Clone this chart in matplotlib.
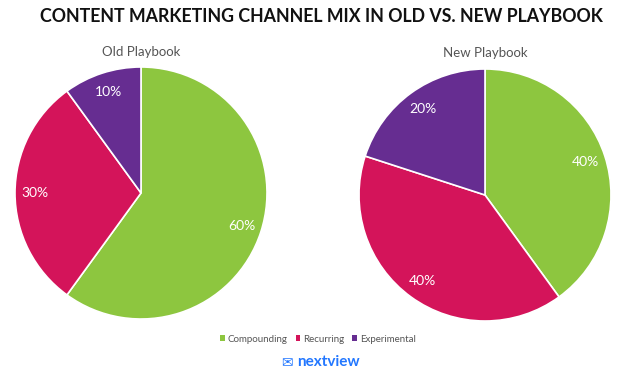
import matplotlib.pyplot as plt
from matplotlib.patches import Patch

plt.rcParams['font.family'] = ['Lato', 'DejaVu Sans']

# ___ data ___
channels = ["Compounding", "Recurring", "Experimental"]
old_share = [60, 30, 10]
new_share = [40, 40, 20]
colors = ["#8DC63F", "#D4145A", "#662D91"]

fig = plt.figure(figsize=(6.42, 3.88), dpi=100)
W, H = 642, 388

def pie_axes(cx, cy, r):
    return fig.add_axes([(cx - r) / W, (H - cy - r) / H, 2 * r / W, 2 * r / H])

def draw_pie(ax, vals, title):
    wedges, texts = ax.pie(vals, colors=colors, startangle=90, counterclock=False,
                           labels=[f"{v}%" for v in vals], labeldistance=0.84,
                           radius=1, wedgeprops=dict(edgecolor="white", linewidth=1.2),
                           textprops=dict(color="white", fontsize=10))
    for t in texts:
        t.set_ha("center")
        t.set_va("center")
    ax.set_xlim(-1.0, 1.0)
    ax.set_ylim(-1.0, 1.0)
    ax.set_aspect("equal")
    ax.axis("off")

ax1 = pie_axes(141, 193, 126)
draw_pie(ax1, old_share, "Old Playbook")
ax2 = pie_axes(485, 195, 126)
draw_pie(ax2, new_share, "New Playbook")

fig.text(321 / W, 1 - 17 / H, "CONTENT MARKETING CHANNEL MIX IN OLD VS. NEW PLAYBOOK",
         ha="center", va="center", fontsize=12.8, fontweight="bold", color="#111111")
fig.text(141 / W, 1 - 52 / H, "Old Playbook", ha="center", va="center", fontsize=9.5, color="#555555")
fig.text(485 / W, 1 - 53 / H, "New Playbook", ha="center", va="center", fontsize=9.5, color="#555555")

handles = [Patch(facecolor=c, edgecolor="none") for c in colors]
fig.legend(handles, channels, loc="center", bbox_to_anchor=(318 / W, 1 - 339 / H),
           ncol=3, frameon=False, fontsize=7, labelcolor="#555555",
           handlelength=0.5, handleheight=0.5, handletextpad=0.3, columnspacing=0.8)

fig.text(328 / W, 1 - 362 / H, "nextview", ha="center", va="center", fontsize=11,
         fontweight="bold", color="#2277FF")
fig.text(287 / W, 1 - 363 / H, "\u2709", ha="center", va="center", fontsize=10,
         color="#2277FF", family=["DejaVu Sans"])

fig.savefig("out.png", dpi=100, facecolor="white")
